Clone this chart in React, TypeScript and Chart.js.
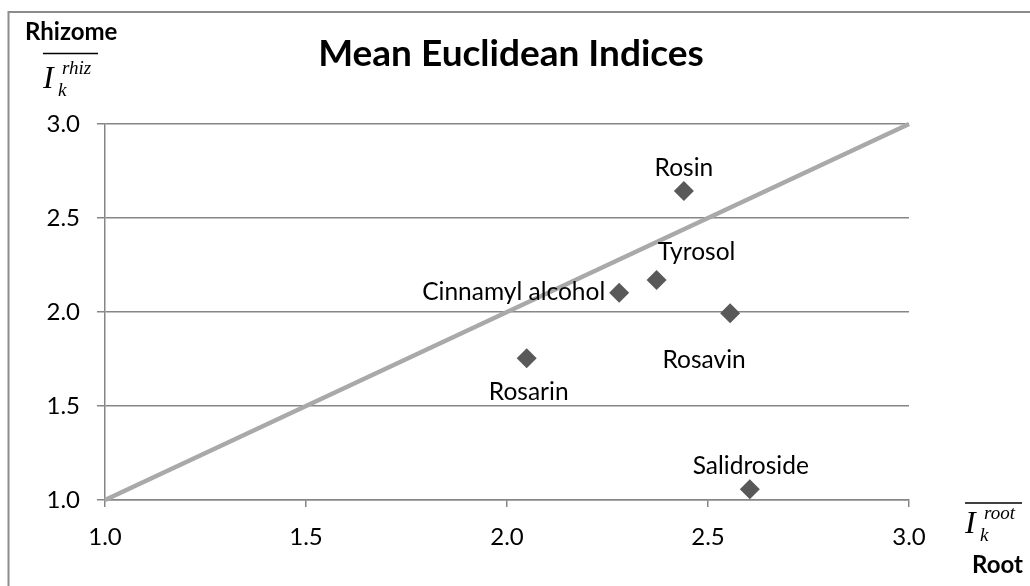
import { useEffect, useRef } from "react";
import { Chart, registerables } from "chart.js";

Chart.register(...registerables);

// ---- data ----
const compounds = ["Rosin", "Tyrosol", "Cinnamyl alcohol", "Rosavin", "Rosarin", "Salidroside"];
const rootIndex = [2.44, 2.372, 2.279, 2.555, 2.049, 2.604];
const rhizomeIndex = [2.644, 2.17, 2.103, 1.993, 1.754, 1.057];
const diagonalX = [1.0, 3.0];
const diagonalY = [1.0, 3.0];
const axisMin = 1.0;
const axisMax = 3.0;
const axisStep = 0.5;
const chartTitle = "Mean Euclidean Indices";
const yAxisName = "Rhizome";
const xAxisName = "Root";
const ySuperscript = "rhiz";
const xSuperscript = "root";

// ---- label layout (pixel offsets from each marker) ----
const labelOffsets: [number, number][] = [
  [0, -23],
  [40, -28],
  [-14, -1],
  [-26, 47],
  [2, 34],
  [1, -23],
];
const labelAligns: CanvasTextAlign[] = ["center", "center", "right", "center", "center", "center"];

const SANS = "Lato, 'Open Sans', sans-serif";
const SERIF = "'Liberation Serif', 'DejaVu Serif', serif";

function drawMathLabel(ctx: CanvasRenderingContext2D, x: number, base: number, sup: string, overStart: number, overEnd: number, overY: number) {
  ctx.save();
  ctx.fillStyle = "#000";
  ctx.textAlign = "left";
  ctx.textBaseline = "alphabetic";
  ctx.font = `italic 32px ${SERIF}`;
  ctx.fillText("I", x, base);
  ctx.font = `italic 19px ${SERIF}`;
  ctx.fillText(sup, x + 19, base - 14);
  ctx.fillText("k", x + 15, base + 8);
  ctx.strokeStyle = "#000";
  ctx.lineWidth = 1.5;
  ctx.beginPath();
  ctx.moveTo(overStart, overY);
  ctx.lineTo(overEnd, overY);
  ctx.stroke();
  ctx.restore();
}

const decorPlugin = {
  id: "decor",
  beforeDraw(chart: any) {
    const ctx = chart.ctx as CanvasRenderingContext2D;
    ctx.save();
    ctx.fillStyle = "#ffffff";
    ctx.fillRect(0, 0, chart.width, chart.height);
    ctx.strokeStyle = "#8c8c8c";
    ctx.lineWidth = 2;
    ctx.strokeRect(8.5, 12, chart.width + 20, chart.height + 20);
    ctx.restore();
  },
  afterDraw(chart: any) {
    const ctx = chart.ctx as CanvasRenderingContext2D;
    ctx.save();
    ctx.fillStyle = "#000";
    ctx.textBaseline = "middle";
    ctx.textAlign = "center";
    ctx.font = `bold 37px ${SANS}`;
    ctx.fillText(chartTitle, 511, 54);
    ctx.textBaseline = "alphabetic";
    ctx.font = `bold 24px ${SANS}`;
    ctx.textAlign = "left";
    ctx.fillText(yAxisName, 25, 40);
    ctx.textAlign = "right";
    ctx.fillText(xAxisName, 1023, 573);
    ctx.restore();
    drawMathLabel(ctx, 43, 88, ySuperscript, 43, 98, 53.5);
    drawMathLabel(ctx, 965, 533, xSuperscript, 965, 1022, 503);
  },
};

const labelPlugin = {
  id: "pointLabels",
  afterDatasetsDraw(chart: any) {
    const ctx = chart.ctx as CanvasRenderingContext2D;
    const meta = chart.getDatasetMeta(0);
    ctx.save();
    ctx.fillStyle = "#000";
    ctx.font = `24.5px ${SANS}`;
    ctx.textBaseline = "middle";
    meta.data.forEach((pt: any, i: number) => {
      const [dx, dy] = labelOffsets[i];
      ctx.textAlign = labelAligns[i];
      ctx.fillText(compounds[i], pt.x + dx, pt.y + dy);
    });
    ctx.restore();
  },
};

export default function App() {
  const ref = useRef<HTMLCanvasElement | null>(null);
  useEffect(() => {
    if (!ref.current) return;
    const points = rootIndex.map((x, i) => ({ x, y: rhizomeIndex[i] }));
    const diag = diagonalX.map((x, i) => ({ x, y: diagonalY[i] }));
    const gridColor = "#868686";
    const chart = new Chart(ref.current, {
      type: "scatter",
      data: {
        datasets: [
          {
            label: "Compounds",
            data: points,
            pointStyle: "rectRot",
            pointRadius: 10,
            pointHoverRadius: 10,
            backgroundColor: "#595959",
            borderColor: "#595959",
            borderWidth: 0,
            clip: false,
          } as any,
          {
            type: "line",
            label: "y = x",
            data: diag,
            borderColor: "#a9a9a9",
            borderWidth: 4.5,
            pointRadius: 0,
            showLine: true,
            fill: false,
            clip: false,
          } as any,
        ],
      },
      options: {
        responsive: false,
        animation: false,
        events: [],
        layout: { padding: { top: 124, right: 121, left: 0, bottom: 0 } },
        plugins: {
          legend: { display: false },
          title: { display: false },
          tooltip: { enabled: false },
        },
        scales: {
          x: {
            type: "linear",
            min: axisMin,
            max: axisMax,
            afterFit: (s: any) => {
              s.height = 86;
            },
            ticks: {
              stepSize: axisStep,
              color: "#000",
              font: { family: SANS, size: 24 },
              padding: 16,
              callback: (v: any) => Number(v).toFixed(1),
            },
            grid: {
              drawOnChartArea: false,
              drawTicks: true,
              tickLength: 7,
              color: gridColor,
              lineWidth: 1.5,
            },
            border: { display: true, color: gridColor, width: 1.5 },
          },
          y: {
            type: "linear",
            min: axisMin,
            max: axisMax,
            afterFit: (s: any) => {
              s.width = 105;
            },
            ticks: {
              stepSize: axisStep,
              color: "#000",
              font: { family: SANS, size: 24 },
              padding: 17,
              callback: (v: any) => Number(v).toFixed(1),
            },
            grid: {
              drawOnChartArea: true,
              drawTicks: true,
              tickLength: 8,
              color: gridColor,
              lineWidth: 1.5,
            },
            border: { display: true, color: gridColor, width: 1.5 },
          },
        },
      },
      plugins: [decorPlugin, labelPlugin],
    });
    return () => chart.destroy();
  }, []);
  return (
    <div style={{ position: "fixed", left: 0, top: 0, width: 1030, height: 586 }}>
      <canvas ref={ref} width={1030} height={586} style={{ display: "block", width: 1030, height: 586 }} />
    </div>
  );
}
